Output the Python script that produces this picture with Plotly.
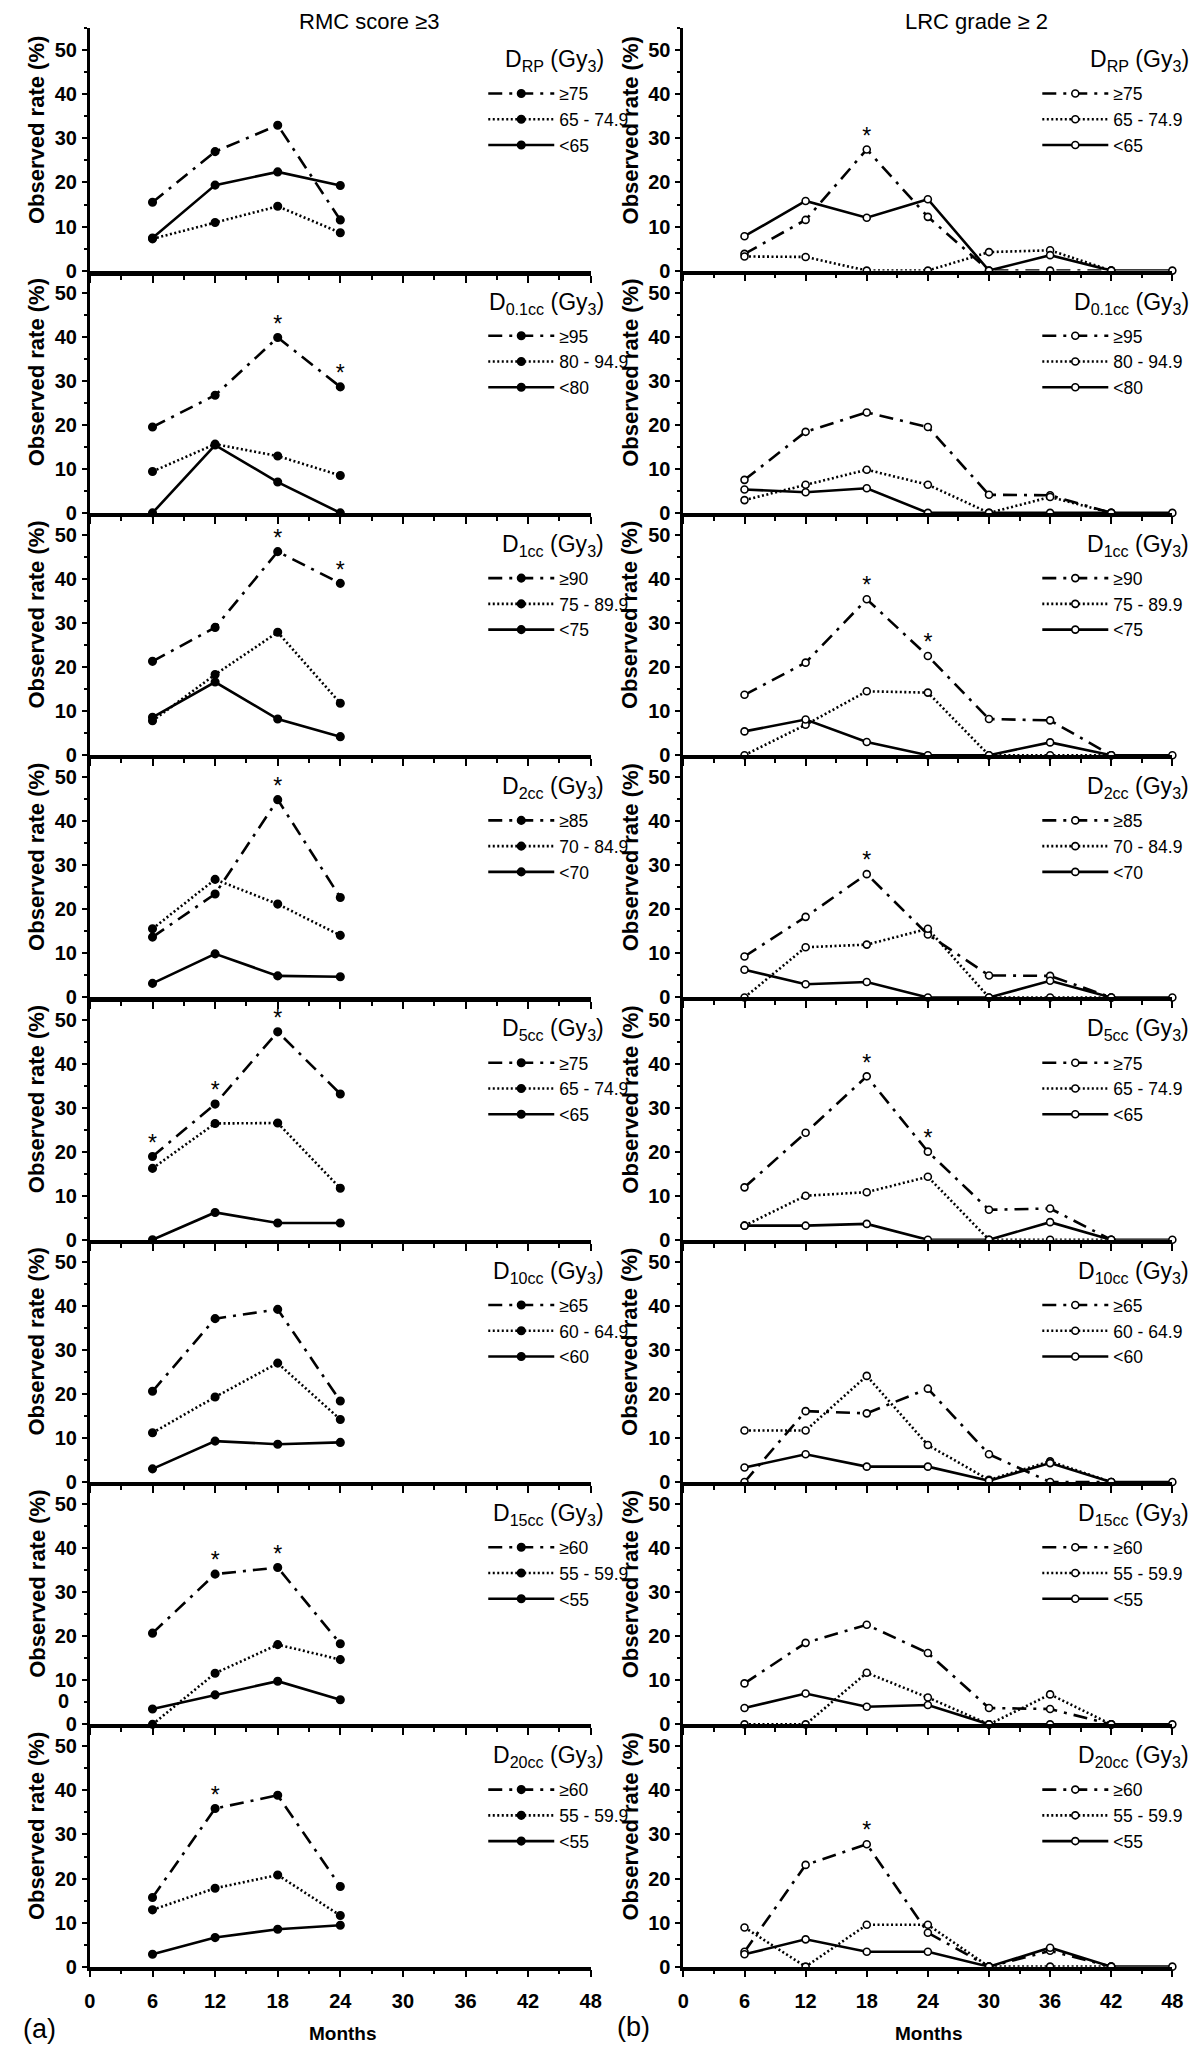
import plotly.graph_objects as go

# ---------------- data ----------------
months_a = [6, 12, 18, 24]
months_b = [6, 12, 18, 24, 30, 36, 42, 48]

dose_names = ["RP", "0.1cc", "1cc", "2cc", "5cc", "10cc", "15cc", "20cc"]

group_labels = [
    ["≥75", "65 - 74.9", "<65"],
    ["≥95", "80 - 94.9", "<80"],
    ["≥90", "75 - 89.9", "<75"],
    ["≥85", "70 - 84.9", "<70"],
    ["≥75", "65 - 74.9", "<65"],
    ["≥65", "60 - 64.9", "<60"],
    ["≥60", "55 - 59.9", "<55"],
    ["≥60", "55 - 59.9", "<55"],
]

# (a) RMC score >=3 : high, middle, low dose groups
rmc_high = [
    [15.5, 27.0, 33.0, 11.5],
    [19.5, 26.7, 39.8, 28.6],
    [21.3, 29.0, 46.2, 39.0],
    [13.7, 23.5, 44.9, 22.7],
    [18.9, 30.8, 47.2, 33.1],
    [20.6, 37.1, 39.2, 18.4],
    [20.7, 34.1, 35.6, 18.3],
    [15.7, 35.9, 38.9, 18.2],
]
rmc_mid = [
    [7.2, 10.9, 14.6, 8.6],
    [9.4, 15.6, 12.9, 8.5],
    [7.8, 18.3, 27.9, 11.8],
    [15.6, 26.8, 21.2, 14.1],
    [16.2, 26.4, 26.5, 11.7],
    [11.2, 19.3, 27.0, 14.2],
    [0.0, 11.6, 18.1, 14.7],
    [12.9, 17.8, 20.8, 11.6],
]
rmc_low = [
    [7.4, 19.4, 22.4, 19.3],
    [0.0, 15.4, 7.0, 0.0],
    [8.6, 16.6, 8.2, 4.2],
    [3.2, 9.9, 4.9, 4.7],
    [0.0, 6.2, 3.8, 3.8],
    [3.0, 9.3, 8.6, 9.0],
    [3.5, 6.7, 9.8, 5.6],
    [2.8, 6.6, 8.5, 9.4],
]
rmc_star_months = [[], [18, 24], [18, 24], [18], [6, 12, 18], [], [12, 18], [12]]

# (b) LRC grade >=2
lrc_high = [
    [3.8, 11.5, 27.5, 12.2, 0.0, 0.0, 0.0],
    [7.5, 18.4, 22.8, 19.5, 4.1, 4.0, 0.0],
    [13.7, 21.0, 35.4, 22.5, 8.2, 7.9, 0.0],
    [9.3, 18.3, 28.0, 14.3, 5.0, 4.9, 0.0],
    [11.9, 24.3, 37.1, 20.0, 6.8, 7.1, 0.0],
    [0.0, 16.1, 15.6, 21.2, 6.3, 0.0, 0.0],
    [9.3, 18.5, 22.6, 16.2, 3.7, 3.5, 0.0],
    [3.4, 23.1, 27.8, 7.7, 0.0, 3.6, 0.0],
]
lrc_mid = [
    [3.2, 3.1, 0.0, 0.0, 4.2, 4.6, 0.0],
    [2.9, 6.4, 9.8, 6.4, 0.0, 3.6, 0.0],
    [0.0, 6.9, 14.5, 14.2, 0.0, 0.0, 0.0],
    [0.0, 11.4, 12.0, 15.6, 0.0, 0.0, 0.0],
    [3.2, 10.0, 10.8, 14.3, 0.0, 0.0, 0.0],
    [11.7, 11.7, 24.1, 8.4, 0.5, 4.7, 0.0],
    [0.0, 0.0, 11.7, 6.1, 0.0, 6.8, 0.0],
    [8.9, 0.0, 9.5, 9.5, 0.0, 0.0, 0.0],
]
lrc_low = [
    [7.8, 15.8, 12.0, 16.2, 0.0, 3.5, 0.0, 0.0],
    [5.3, 4.7, 5.6, 0.0, 0.0, 0.0, 0.0, 0.0],
    [5.4, 8.1, 3.0, 0.0, 0.0, 2.9, 0.0, 0.0],
    [6.3, 3.0, 3.5, 0.0, 0.0, 3.8, 0.0, 0.0],
    [3.2, 3.2, 3.6, 0.0, 0.0, 4.0, 0.0, 0.0],
    [3.3, 6.3, 3.5, 3.5, 0.3, 4.3, 0.0, 0.0],
    [3.7, 7.0, 4.0, 4.4, 0.0, 0.0, 0.0, 0.0],
    [2.8, 6.2, 3.4, 3.4, 0.0, 4.3, 0.0, 0.0],
]
lrc_star_months = [[18], [], [18, 24], [18], [18, 24], [], [], [18]]

y_ticks = [0, 10, 20, 30, 40, 50]
x_ticks = [0, 6, 12, 18, 24, 30, 36, 42, 48]

# ---------------- layout geometry ----------------
W, H = 1200, 2054
ROW0_ZERO = 264.0
ROW_H = 243.6
LEFT_PX = (77, 585)
RIGHT_PX = (679, 1175)
LEG_X = (476, 1038)          # legend box left edges
HEAD_RIGHT = (600, 1194)     # right edge of legend headings

FONT = "Liberation Sans, Arial, Helvetica, sans-serif"
DASHDOT = "14px,7px,3px,7px"

fig = go.Figure()
layout = dict(
    width=W, height=H,
    margin=dict(l=0, r=0, t=0, b=0),
    paper_bgcolor="white", plot_bgcolor="white",
    font=dict(family=FONT, color="black"),
    showlegend=True,
)
annotations = []


def py(px):
    return 1 - px / H


for k in range(8):
    zero_px = ROW0_ZERO + ROW_H * k
    top_px = zero_px - ROW_H
    ydom = [py(zero_px), py(top_px)]
    for side in range(2):
        n = 2 * k + side + 1
        xs = "" if n == 1 else str(n)
        xpx = LEFT_PX if side == 0 else RIGHT_PX
        lg = "legend" if n == 1 else f"legend{n}"
        if side == 0:
            series = [rmc_high[k], rmc_mid[k], rmc_low[k]]
            stars = rmc_star_months[k]
            marker_fill = "black"
        else:
            series = [lrc_high[k], lrc_mid[k], lrc_low[k]]
            stars = lrc_star_months[k]
            marker_fill = "white"
        dashes = [DASHDOT, "2px,2.5px", "solid"]
        for j, vals in enumerate(series):
            xv = (months_a if side == 0 else months_b)[: len(vals)]
            fig.add_trace(go.Scatter(
                x=xv, y=vals, mode="lines+markers",
                name=group_labels[k][j],
                line=dict(color="black", width=2.6, dash=dashes[j]),
                marker=dict(symbol="circle", size=7.5 if side == 0 else 7,
                            color=marker_fill,
                            line=dict(color="black", width=1.6)),
                cliponaxis=False,
                xaxis="x" + xs, yaxis="y" + xs, legend=lg,
            ))
        if stars:
            hx = months_a if side == 0 else months_b
            sy = [series[0][hx.index(m)] for m in stars]
            fig.add_trace(go.Scatter(
                x=stars, y=sy, mode="text", text=["*"] * len(stars),
                textposition="top center",
                textfont=dict(size=23, color="black", family=FONT),
                showlegend=False, cliponaxis=False,
                xaxis="x" + xs, yaxis="y" + xs, hoverinfo="skip",
            ))
        bottom = (k == 7)
        thick = 5 if (side == 0 and k in (0, 3)) else 3.5
        layout["xaxis" + xs] = dict(
            domain=[xpx[0] / W, xpx[1] / W], anchor="y" + xs,
            range=[0, 48], tickvals=x_ticks, showticklabels=bottom,
            ticks="outside", ticklen=7, tickwidth=2, tickcolor="black",
            minor=dict(dtick=3, tick0=0, ticks="outside", ticklen=4,
                       tickwidth=1.5, tickcolor="black"),
            showline=True, linewidth=thick, linecolor="black",
            showgrid=False, zeroline=False,
            tickfont=dict(size=20, family=FONT, weight="bold"),
            ticklabelstandoff=7,
        )
        layout["yaxis" + xs] = dict(
            domain=ydom, anchor="x" + xs, range=[0, 55],
            tickvals=y_ticks, ticks="outside", ticklen=5, tickwidth=2,
            tickcolor="black",
            minor=dict(dtick=5, tick0=0, ticks="outside", ticklen=3,
                       tickwidth=1.5, tickcolor="black"),
            showline=True, linewidth=3, linecolor="black",
            showgrid=False, zeroline=False,
            tickfont=dict(size=20, family=FONT, weight="bold"),
            ticklabelstandoff=1,
        )
        layout[lg] = dict(
            x=LEG_X[side] / W, y=py(zero_px - 196), xanchor="left", yanchor="top",
            xref="paper", yref="paper",
            bgcolor="rgba(0,0,0,0)", borderwidth=0,
            itemwidth=66, tracegroupgap=0, traceorder="normal",
            font=dict(size=17.5, family=FONT, color="black"),
            itemclick=False, itemdoubleclick=False,
        )
        # legend heading
        annotations.append(dict(
            text=f"D<sub>{dose_names[k]}</sub> (Gy<sub>3</sub>)",
            x=HEAD_RIGHT[side] / W, y=py(zero_px - 211),
            xref="paper", yref="paper", showarrow=False,
            font=dict(size=23, family=FONT, color="black"),
            xanchor="right", yanchor="middle",
        ))
        # y axis title
        annotations.append(dict(
            text="<b>Observed rate (%)</b>", textangle=-90,
            x=(23 if side == 0 else 625) / W, y=py(zero_px - 141),
            xref="paper", yref="paper", showarrow=False,
            font=dict(size=22, family=FONT, color="black"),
            xanchor="center", yanchor="middle",
        ))

# panel titles and labels
annotations += [
    dict(text="RMC score ≥3", x=360 / W, y=py(14), xref="paper", yref="paper",
         showarrow=False, font=dict(size=22, family=FONT), xanchor="center", yanchor="middle"),
    dict(text="LRC grade ≥ 2", x=976 / W, y=py(14), xref="paper", yref="paper",
         showarrow=False, font=dict(size=22, family=FONT), xanchor="center", yanchor="middle"),
    dict(text="<b>Months</b>", x=334 / W, y=py(2036), xref="paper", yref="paper",
         showarrow=False, font=dict(size=19, family=FONT), xanchor="center", yanchor="middle"),
    dict(text="<b>Months</b>", x=928 / W, y=py(2036), xref="paper", yref="paper",
         showarrow=False, font=dict(size=19, family=FONT), xanchor="center", yanchor="middle"),
    dict(text="(a)", x=26 / W, y=py(2032), xref="paper", yref="paper",
         showarrow=False, font=dict(size=27, family=FONT), xanchor="center", yanchor="middle"),
    dict(text="(b)", x=628 / W, y=py(2030), xref="paper", yref="paper",
         showarrow=False, font=dict(size=27, family=FONT), xanchor="center", yanchor="middle"),
    dict(text="<b>0</b>", x=50 / W, y=py(1702), xref="paper", yref="paper",
         showarrow=False, font=dict(size=20, family=FONT), xanchor="center", yanchor="middle"),
]
layout["annotations"] = annotations
fig.update_layout(**layout)
fig.write_html("out.html")
